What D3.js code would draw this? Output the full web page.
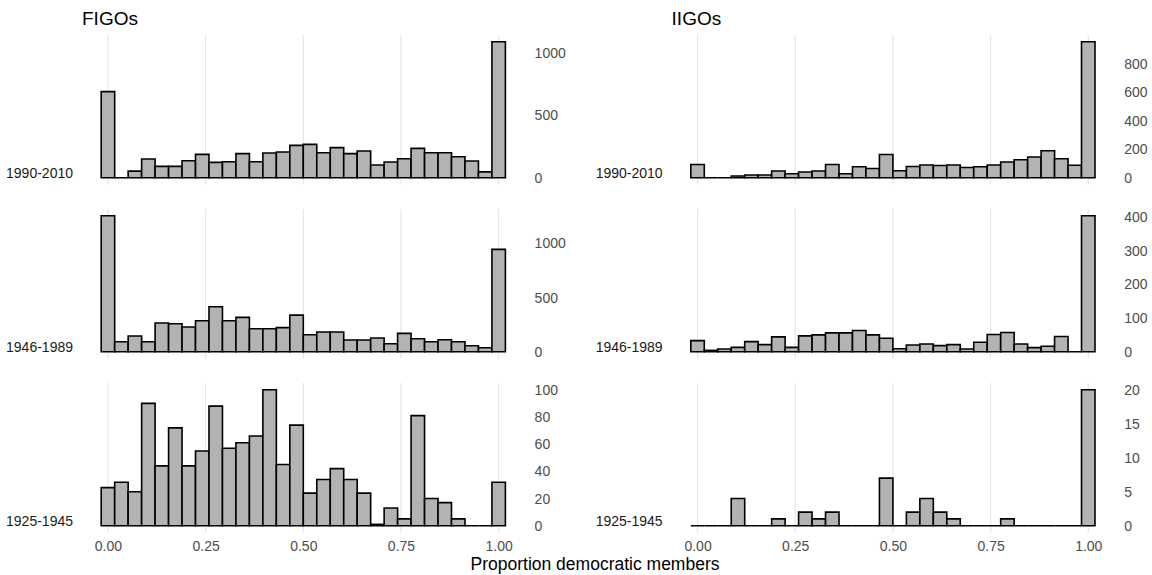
<!DOCTYPE html>
<html>
<head>
<meta charset="utf-8">
<script src="https://cdn.jsdelivr.net/npm/d3@7"></script>
<style>
  html, body { margin: 0; padding: 0; background: #ffffff; }
  svg { display: block; font-family: "Liberation Sans", Arial, Helvetica, sans-serif; }
</style>
</head>
<body>
<svg id="chart" width="1152" height="575"></svg>
<script>
// ---- data -------------------------------------------------------------
const groups  = ["FIGOs", "IIGOs"];
const periods = ["1990-2010", "1946-1989", "1925-1945"];

// 30 bins of width 1/29, centred on k/29
const binCount = 30;
const binWidth = 1 / 29;
const binCenters = d3.range(binCount).map(k => k * binWidth);

// counts per bin
const figos1990 = [690, 0, 53, 150, 91, 91, 136, 187, 123, 128, 193, 128, 198, 206, 259,
                   267, 200, 241, 193, 214, 102, 126, 152, 235, 200, 200, 168, 134, 47, 1090];
const figos1946 = [1255, 92, 145, 92, 265, 258, 228, 286, 415, 286, 317, 212, 212, 222, 338,
                   157, 182, 182, 108, 108, 126, 74, 169, 120, 92, 111, 92, 55, 37, 945];
const figos1925 = [28, 32, 25, 90, 44, 72, 44, 55, 88, 57, 61, 66, 100, 45, 74,
                   24, 34, 42, 34, 24, 1, 13, 5, 81, 20, 17, 5, 0, 0, 32];
const iigos1990 = [93, 0, 0, 12, 19, 19, 47, 28, 40, 47, 93, 28, 77, 65, 163,
                   49, 79, 89, 86, 89, 72, 77, 89, 110, 126, 145, 189, 133, 88, 955];
const iigos1946 = [33, 4, 8, 13, 30, 21, 44, 13, 47, 50, 56, 56, 63, 50, 40,
                   9, 20, 23, 18, 21, 8, 28, 51, 57, 23, 12, 16, 45, 0, 404];
const iigos1925 = [0, 0, 0, 4, 0, 0, 1, 0, 2, 1, 2, 0, 0, 0, 7,
                   0, 2, 4, 2, 1, 0, 0, 0, 1, 0, 0, 0, 0, 0, 20];

const xTicks = [0, 0.25, 0.5, 0.75, 1];
const yTicksFigos = [[0, 500, 1000], [0, 500, 1000], [0, 20, 40, 60, 80, 100]];
const yTicksIigos = [[0, 200, 400, 600, 800], [0, 100, 200, 300, 400], [0, 5, 10, 15, 20]];

const series = [
  [figos1990, figos1946, figos1925],
  [iigos1990, iigos1946, iigos1925]
];
const yTicks = [yTicksFigos, yTicksIigos];

// ---- layout -----------------------------------------------------------
const svg = d3.select("#chart");
const colLeft  = [81.0, 670.6];
const panelW   = 444.6;
const rowTop   = [35.0, 209.0, 383.0];
const panelH   = 149.5;

const xLo = -binWidth / 2, xHi = 1 + binWidth / 2;
const xPad = 0.05 * (xHi - xLo);
const xDomain = [xLo - xPad, xHi + xPad];

const barFill = "#B3B3B3";
const gridCol = "#E6E6E6";
const tickCol = "#4D4D4D";

groups.forEach((g, gi) => {
  const left = colLeft[gi];
  const x = d3.scaleLinear().domain(xDomain).range([left, left + panelW]);
  const col = svg.append("g").attr("class", "column");

  // column title
  col.append("text")
    .attr("x", left + 1)
    .attr("y", 25)
    .attr("font-size", 19)
    .attr("fill", "#000")
    .text(g);

  periods.forEach((p, pi) => {
    const top = rowTop[pi];
    const bottom = top + panelH;
    const vals = series[gi][pi];
    const yMax = d3.max(vals);
    const y = d3.scaleLinear()
      .domain([-0.05 * yMax, 1.05 * yMax])
      .range([bottom, top]);

    const panel = col.append("g").attr("class", "panel");

    // vertical grid lines
    panel.selectAll("line.grid")
      .data(xTicks)
      .join("line")
      .attr("class", "grid")
      .attr("x1", d => x(d)).attr("x2", d => x(d))
      .attr("y1", top).attr("y2", bottom)
      .attr("stroke", gridCol)
      .attr("stroke-width", 1.2);

    // histogram bars (paths, so empty bins still show their outline)
    panel.selectAll("path.bar")
      .data(binCenters.map((c, i) => ({ c, v: vals[i] })))
      .join("path")
      .attr("class", "bar")
      .attr("d", d => {
        const x0 = x(d.c - binWidth / 2), x1 = x(d.c + binWidth / 2);
        const y0 = y(0), y1 = y(d.v);
        return `M${x0},${y0}V${y1}H${x1}V${y0}Z`;
      })
      .attr("fill", barFill)
      .attr("stroke", "#000")
      .attr("stroke-width", 1.6)
      .attr("stroke-linejoin", "miter");

    // period label on the left, sitting on the zero line
    panel.append("text")
      .attr("x", left - 8)
      .attr("y", y(0))
      .attr("text-anchor", "end")
      .attr("font-size", 14)
      .attr("fill", "#1A1A1A")
      .text(p);

    // y axis on the right
    const yAxis = d3.axisRight(y)
      .tickValues(yTicks[gi][pi])
      .tickFormat(d3.format("d"))
      .tickSize(0)
      .tickPadding(9);
    const ya = panel.append("g")
      .attr("transform", `translate(${left + panelW},0)`)
      .call(yAxis);
    ya.select(".domain").remove();
    ya.selectAll("text")
      .attr("font-size", 14)
      .attr("font-family", null)
      .attr("fill", tickCol);

    // x axis under the bottom row
    if (pi === periods.length - 1) {
      const xAxis = d3.axisBottom(x)
        .tickValues(xTicks)
        .tickFormat(d3.format(".2f"))
        .tickSize(0)
        .tickPadding(9);
      const xa = panel.append("g")
        .attr("transform", `translate(0,${bottom})`)
        .call(xAxis);
      xa.select(".domain").remove();
      xa.selectAll("text")
        .attr("font-size", 14)
        .attr("font-family", null)
        .attr("fill", tickCol);
    }
  });
});

// shared x axis title
svg.append("text")
  .attr("x", 595)
  .attr("y", 570)
  .attr("text-anchor", "middle")
  .attr("font-size", 17.5)
  .attr("fill", "#000")
  .text("Proportion democratic members");
</script>
</body>
</html>
